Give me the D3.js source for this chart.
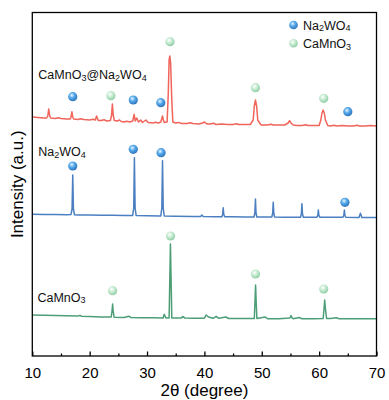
<!DOCTYPE html>
<html><head><meta charset="utf-8">
<script src="https://cdn.jsdelivr.net/npm/d3@7"></script>
<style>body{margin:0;background:#fff}svg{display:block;font-family:Arial,"Liberation Sans",sans-serif}</style>
</head><body><svg id="c" width="389" height="400"></svg>
<script>
// ---- data (2θ in degrees, stacked intensity in a.u.) ----
const xTicks = [10, 20, 30, 40, 50, 60, 70];
const xMinor = [15, 25, 35, 45, 55, 65];
const seriesNames = ["CaMnO3@Na2WO4", "Na2WO4", "CaMnO3"];
const seriesColors = ["#f0645a", "#4b7fc2", "#4d9e77"];

const composite = [
 [10,239],[11,238.5],[12,238],[12.5,238],[12.7,240],[12.86,247],[13.05,240],[13.2,238],[14,237.5],[14.6,238.2],[15,237.5],[16,237],
 [16.6,237],[16.75,239],[16.9,244.3],[17.05,239],[17.2,237],[18,236.5],[18.4,237.2],[19,236.5],[20,236],[20.6,236.8],[21,236],[21.2,240],
 [21.5,235.5],[22,235.5],[22.5,236.2],[23,235],[23.6,235.5],[23.8,240],[23.96,252],[24.1,241],[24.3,235.5],[24.8,235],[25.2,236],[25.5,234.5],
 [26,234],[26.5,234.8],[27,234],[27.5,235],[27.75,241.7],[27.95,235],[28.2,238],[28.5,234],[28.9,236],[29.2,233.5],[29.8,236],[30.2,233.5],
 [31,233],[31.5,233.8],[32,233],[32.4,234],[32.6,238],[32.7,240],[32.85,236],[33.0,233.5],[33.5,234],[33.7,262],[33.85,296],[33.98,300],
 [34.12,292],[34.3,258],[34.5,234],[35,233],[35.5,233.6],[36,232.5],[37,232.5],[37.5,233.2],[38,232.5],[39,232],[39.7,233],[40,234],
 [40.3,232.6],[40.5,232],[41,232],[41.6,232.8],[42,231.5],[43,232],[44,231.5],[45,231.5],[45.6,232.2],[46,231.5],[47,231.5],[48,231.5],
 [48.5,236],[48.7,250],[48.9,256],[49.1,250],[49.3,236],[49.8,231.5],[50,231],[51,231],[51.6,231.8],[52,231],[53,231],[54,231],
 [54.6,233],[54.85,235.3],[55.1,233],[55.5,231],[56,230.5],[57,230.5],[57.7,231.2],[58,230.5],[59,230.5],[60,230.5],[60.3,236],
 [60.5,243],[60.7,246],[60.9,243],[61.1,236],[61.5,230.5],[62,230],[62.6,230.8],[63,230],[64,230.5],[65,230],[66,230],[66.6,230.7],
 [67,230],[68,230],[69,230.5],[70,230]
];
const na2wo4 = [
 [10,141.7],[12,141.5],[14,141.5],[16,141.2],[16.75,141.6],[16.93,147],[17.05,181],[17.17,147],[17.35,141.2],[18,141],[20,141],[22,140.7],
 [24,140.7],[26,140.5],[27.5,140.6],[27.68,148],[27.8,198.3],[27.92,148],[28.1,140.5],[30,140.2],[32.4,140.1],[32.58,148],[32.7,195.3],
 [32.82,148],[33.0,140],[35,139.8],[38,139.5],[39.35,139.5],[39.56,141],[39.8,139.5],[42,139.2],[43.05,139.2],[43.18,141.5],[43.28,148.3],
 [43.38,141.5],[43.55,139.2],[45,139.2],[47,139],[48.65,139],[48.8,143],[48.9,157],[49.0,143],[49.15,139],[51.75,139],[51.9,142.5],
 [52.0,153.7],[52.1,142.5],[52.25,139],[54,138.8],[56.75,138.8],[56.9,142],[57.0,152.3],[57.1,142],[57.25,138.8],[59.6,138.7],[59.76,140.5],
 [59.86,146],[59.96,140.5],[60.15,138.7],[62,138.7],[64.15,138.7],[64.3,140.5],[64.4,146],[64.5,140.5],[64.65,138.7],[66.95,138.5],
 [67.2,142.7],[67.45,138.5],[70,138.5]
];
const camno3 = [
 [10,41],[12,40.8],[14,40.5],[16,40.2],[18,40],[18.3,40.6],[18.6,39.8],[20,39.5],[22,39],[23.75,39],[23.9,45],[24.0,52],[24.1,45],
 [24.25,38.8],[26,38.5],[26.8,39.8],[27.2,38.5],[29,38.2],[31,38.2],[32.8,38],[33.0,41.7],[33.3,38],[33.85,38],[33.98,80],[34.08,112],
 [34.18,80],[34.32,38],[35,38],[36,38],[36.2,39.5],[36.6,38],[38,37.8],[40,37.8],[40.3,41],[40.7,39],[41.5,37.7],[42.06,39.7],[42.5,37.7],
 [43.75,39],[44.2,37.5],[46,37.5],[48.7,37.5],[48.82,55],[48.92,71],[49.02,55],[49.15,37.5],[50.6,39],[51,37.3],[53,37.3],[54.9,38],
 [55.1,40.3],[55.3,38],[55.5,37.3],[56.5,38.5],[57,37.3],[59,37.3],[60.7,37.5],[60.85,47],[60.97,56],[61.1,47],[61.3,37.5],[62,37.5],
 [63,38.2],[63.5,37.3],[66,37.3],[70,37.3]
];
const seriesData = [composite, na2wo4, camno3];

// phase markers: [2θ, height, phase]
const markers = [
 [17.05,259.3,"Na2WO4"],[23.7,260.3,"CaMnO3"],[27.6,256,"Na2WO4"],[32.4,253.3,"Na2WO4"],[34.0,314.3,"CaMnO3"],
 [48.9,268.3,"CaMnO3"],[60.8,257.7,"CaMnO3"],[65.0,244.3,"Na2WO4"],
 [17.05,190,"Na2WO4"],[27.6,206.7,"Na2WO4"],[32.45,203.3,"Na2WO4"],[64.5,153.7,"Na2WO4"],
 [24.0,65.3,"CaMnO3"],[34.1,120,"CaMnO3"],[48.9,82,"CaMnO3"],[60.8,67,"CaMnO3"]
];
// label anchors: [2θ, height]
const labelPos = [[11.05,277],[11.05,200],[10.9,54.5]];
const legendNames = ["Na2WO4", "CaMnO3"];

// ---- drawing ----
const svg = d3.select("#c");
const M = {l:32.3, r:376.5, t:12.5, b:356};
const x = d3.scaleLinear().domain([10,70]).range([M.l, M.r]);
const y = d3.scaleLinear().domain([0,343.5]).range([M.b, M.t]);

const defs = svg.append("defs");
function grad(id, hi, mid, edge){
  const g = defs.append("radialGradient").attr("id", id).attr("cx","40%").attr("cy","35%").attr("r","65%");
  g.append("stop").attr("offset","0%").attr("stop-color",hi);
  g.append("stop").attr("offset","45%").attr("stop-color",mid);
  g.append("stop").attr("offset","100%").attr("stop-color",edge);
}
grad("gNa","#eaf6ff","#55a9ea","#2f74bb");
grad("gCa","#ffffff","#c8ecd3","#90cea6");
const fillFor = p => p === "Na2WO4" ? "url(#gNa)" : "url(#gCa)";

const line = d3.line().x(d => x(d[0])).y(d => y(d[1]));
svg.append("g").selectAll("path").data(seriesData).join("path")
  .attr("d", line).attr("fill","none")
  .attr("stroke", (d,i) => seriesColors[i]).attr("stroke-width",1.5).attr("stroke-linejoin","round");

svg.append("g").selectAll("circle").data(markers).join("circle")
  .attr("cx", d => x(d[0])).attr("cy", d => y(d[1])).attr("r",4.6)
  .attr("fill", d => fillFor(d[2]));

// chemical formula with subscripts
function formula(sel, txt, size){
  const parts = txt.match(/[^0-9]+|[0-9]+/g);
  parts.forEach((p, i) => {
    const isNum = /^[0-9]+$/.test(p);
    sel.append("tspan").text(p)
      .attr("font-size", isNum ? size*0.72 : size)
      .attr("dy", isNum ? size*0.15 : (i>0 ? -size*0.15 : 0));
  });
}
seriesNames.forEach((n,i) => {
  const t = svg.append("text").attr("x", x(labelPos[i][0])).attr("y", y(labelPos[i][1])).attr("fill","#111");
  formula(t, n, 12.5);
});

// legend
legendNames.forEach((n,i) => {
  svg.append("circle").attr("cx",293.5).attr("cy",25+i*18.3).attr("r",4.3).attr("fill", fillFor(n));
  const t = svg.append("text").attr("x",303).attr("y",29.5+i*18.3).attr("fill","#111");
  formula(t, n, 12.5);
});

// axes
svg.append("rect").attr("x",M.l).attr("y",M.t).attr("width",M.r-M.l).attr("height",M.b-M.t)
  .attr("fill","none").attr("stroke","#000").attr("stroke-width",1.3);
const ax = svg.append("g").attr("transform",`translate(0,${M.b})`)
  .call(d3.axisBottom(x).tickValues(xTicks).tickSize(-4.5).tickPadding(11.5).tickFormat(d3.format("d")));
ax.select(".domain").remove();
ax.selectAll("line").attr("stroke","#000").attr("stroke-width",1.3);
ax.selectAll("text").attr("font-size",15).attr("fill","#000").attr("font-family","Arial,'Liberation Sans',sans-serif");
const axm = svg.append("g").attr("transform",`translate(0,${M.b})`)
  .call(d3.axisBottom(x).tickValues(xMinor).tickSize(-2.5).tickFormat(""));
axm.select(".domain").remove();
axm.selectAll("line").attr("stroke","#000").attr("stroke-width",1.3);

svg.append("text").attr("x",(M.l+M.r)/2).attr("y",395.5).attr("text-anchor","middle")
  .attr("font-size",17).attr("fill","#000").text("2θ (degree)");
svg.append("text").attr("transform",`translate(23,${(M.t+M.b)/2}) rotate(-90)`).attr("text-anchor","middle")
  .attr("font-size",17).attr("fill","#000").text("Intensity (a.u.)");
</script></body></html>
